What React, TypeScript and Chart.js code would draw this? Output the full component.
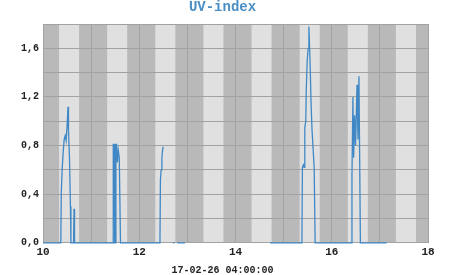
import React, { useEffect, useRef } from 'react';
import { Chart, registerables } from 'chart.js';

Chart.register(...registerables);

const titleText = 'UV-index';
const xAxisLabel = '17-02-26 04:00:00';

// time in hours, UV index (null = gap in the record)
const times = [
  10.0, 10.37, 10.38, 10.4, 10.42, 10.44, 10.46, 10.48, 10.5, 10.52, 10.53, 10.55, 10.57, 10.58,
  10.635, 10.645, 10.655,
  11.455, 11.46, 11.48, 11.49, 11.505, 11.515, 11.53, 11.545, 11.565, 11.585, 11.61,
  12.43, 12.44, 12.455, 12.47, 12.49, 12.5, 12.6,
  12.7, 12.73, 12.76, 12.79, 12.95, 13.5,
  14.72, 15.38, 15.39, 15.41, 15.425, 15.44, 15.46, 15.47, 15.49, 15.51, 15.525, 15.54, 15.555, 15.57, 15.59, 15.635, 15.655,
  16.41, 16.42, 16.44, 16.455, 16.475, 16.495, 16.525, 16.545, 16.565, 16.58, 16.595, 17.14,
];
const uvValues = [
  0, 0, 0.42, 0.62, 0.75, 0.85, 0.88, 0.84, 0.96, 1.12, 0.92, 0.7, 0.3, 0,
  0, 0.28, 0,
  0, 0.81, 0.81, 0, 0, 0.81, 0.81, 0.66, 0.76, 0.7, 0,
  0, 0.52, 0.6, 0.7, 0.78, 0.79, null,
  0, 0, null, 0, 0, null,
  0, 0, 0.62, 0.64, 0.62, 0.95, 1.0, 1.25, 1.5, 1.6, 1.78, 1.6, 1.4, 1.15, 0.93, 0.62, 0,
  0, 0.55, 1.2, 0.7, 1.05, 0.8, 1.3, 0.85, 1.37, 0.7, 0, 0,
];

const xMin = 10;
const xMax = 18;
const yMin = 0;
const yMax = 1.8;

const stripePlugin = {
  id: 'stripes',
  beforeDraw(chart: any) {
    const { ctx, chartArea, scales } = chart;
    const x = scales.x;
    ctx.save();
    ctx.fillStyle = '#b9b9b9';
    ctx.fillRect(chartArea.left, chartArea.top, chartArea.right - chartArea.left, chartArea.bottom - chartArea.top);
    ctx.fillStyle = '#e0e0e0';
    for (let h = Math.floor(x.min); h < x.max; h++) {
      const a = x.getPixelForValue(h + 1 / 3);
      const b = x.getPixelForValue(h + 0.75);
      ctx.fillRect(a, chartArea.top, b - a, chartArea.bottom - chartArea.top);
    }
    ctx.restore();
  },
};

export default function App() {
  const ref = useRef<HTMLCanvasElement>(null);
  useEffect(() => {
    if (!ref.current) return;
    const mono = "'Liberation Mono', 'DejaVu Sans Mono', monospace";
    const chart = new Chart(ref.current, {
      type: 'line',
      data: {
        datasets: [
          {
            data: times.map((t, i) => ({ x: t, y: uvValues[i] })),
            borderColor: '#3f88c5',
            borderWidth: 1.3,
            pointRadius: 0,
            spanGaps: false,
            tension: 0,
            clip: 3,
          },
        ],
      },
      options: {
        animation: false,
        responsive: false,
        layout: { padding: { left: 17, right: 23, top: 0, bottom: 0 } },
        plugins: {
          legend: { display: false },
          tooltip: { enabled: false },
          title: {
            display: true,
            text: titleText,
            color: '#4a8ec4',
            font: { family: mono, size: 14, weight: 'bold', lineHeight: 1 },
            padding: { top: 0, bottom: 10 },
          },
          subtitle: {
            display: true,
            position: 'bottom',
            text: xAxisLabel,
            color: '#222',
            font: { family: mono, size: 10, weight: 'bold', lineHeight: 1 },
            padding: { top: 3, bottom: 0 },
          },
        },
        scales: {
          x: {
            type: 'linear',
            min: xMin,
            max: xMax,
            ticks: {
              stepSize: 1,
              autoSkip: false,
              maxRotation: 0,
              padding: 3,
              color: '#222',
              font: { family: mono, size: 11, weight: 'bold' },
              callback: (v: any) => (Math.round(v) % 2 === 0 ? String(v) : ''),
            },
            grid: { color: '#a2a2a2', drawTicks: false },
            border: { color: '#a2a2a2' },
          },
          y: {
            min: yMin,
            max: yMax,
            ticks: {
              stepSize: 0.2,
              autoSkip: false,
              padding: 4,
              color: '#222',
              font: { family: mono, size: 10, weight: 'bold' },
              callback: (v: any) => (Math.round(v * 10) % 4 === 0 ? Number(v).toFixed(1).replace('.', ',') : ''),
            },
            grid: { color: '#a2a2a2', drawTicks: false },
            border: { color: '#a2a2a2' },
          },
        },
      },
      plugins: [stripePlugin],
    } as any);
    return () => chart.destroy();
  }, []);
  return (
    <div style={{ position: 'fixed', left: 0, top: 0, width: 451, height: 275 }}>
      <canvas ref={ref} width={451} height={275} style={{ width: 451, height: 275 }} />
    </div>
  );
}
